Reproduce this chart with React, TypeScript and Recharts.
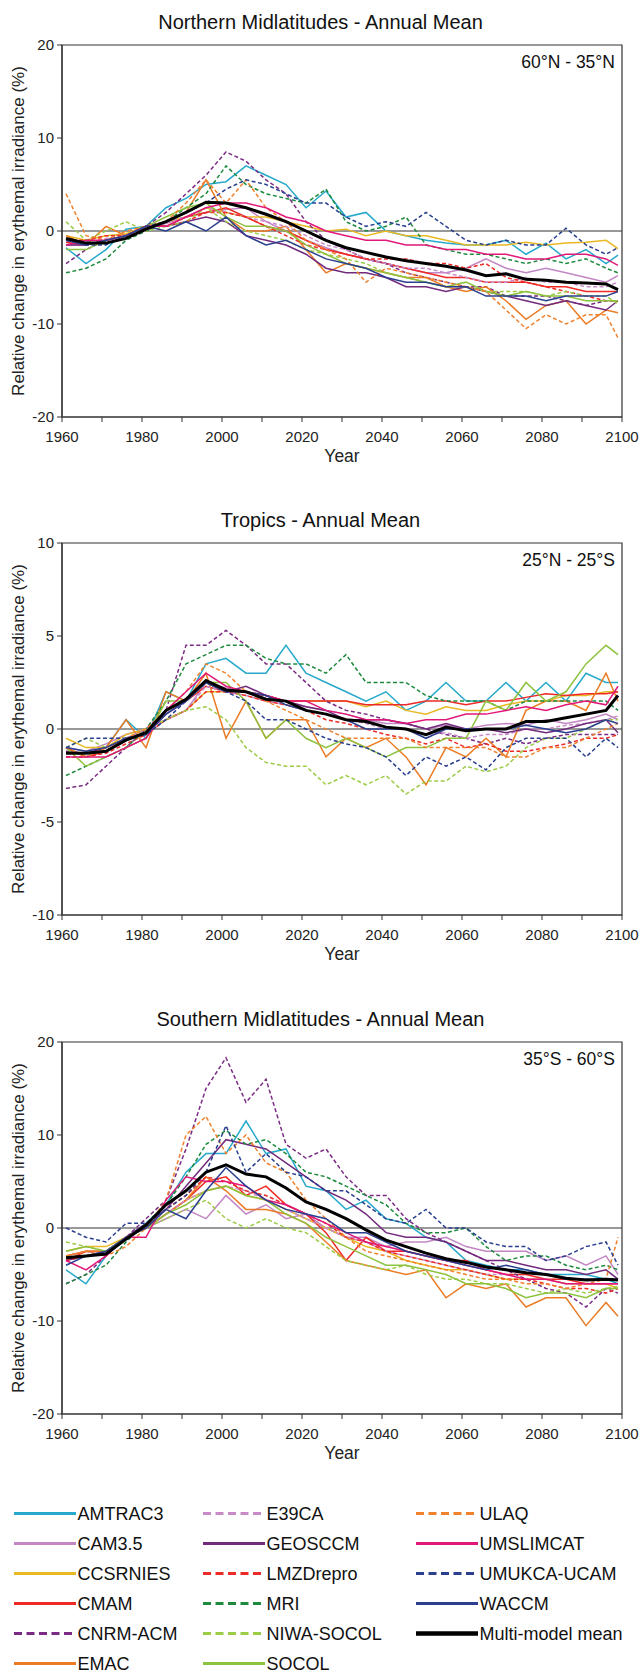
import { Line, LineChart, ReferenceArea, ReferenceLine, XAxis, YAxis } from 'recharts'

const FONT = '"Liberation Sans", Arial, Helvetica, sans-serif'

// sample years (every 5 years, plus the last model year)
const YEARS = [1961, 1966, 1971, 1976, 1981, 1986, 1991, 1996, 2001, 2006, 2011, 2016, 2021, 2026, 2031, 2036, 2041, 2046, 2051, 2056, 2061, 2066, 2071, 2076, 2081, 2086, 2091, 2096, 2099]
const X_TICKS = [1960, 1970, 1980, 1990, 2000, 2010, 2020, 2030, 2040, 2050, 2060, 2070, 2080, 2090, 2100]

// Northern midlatitudes (60N - 35N)
const NH_MEAN = [-0.8, -1.3, -1.3, -0.8, 0.2, 1.0, 2.0, 3.1, 3.0, 2.5, 1.8, 1.0, 0.0, -1.0, -1.8, -2.3, -2.8, -3.2, -3.5, -3.8, -4.2, -4.8, -4.6, -5.2, -5.3, -5.5, -5.6, -5.7, -6.3]
const NH_AMTRAC3 = [-1.8, -3.5, -2.0, 0.2, 0.5, 2.5, 3.5, 5.0, 5.3, 7.0, 6.0, 5.0, 2.5, 4.3, 1.5, 2.0, 0.0, -0.5, -1.0, -1.3, -1.5, -1.5, -1.0, -2.5, -1.3, -3.0, -2.0, -3.5, -2.6]
const NH_CAM35 = [-1.5, -1.5, -1.0, -0.8, 0.3, 0.8, 1.5, 2.0, 2.3, 2.5, 1.0, 0.0, -1.0, -1.8, -2.5, -3.0, -3.5, -4.0, -4.5, -4.5, -4.0, -3.0, -4.0, -4.5, -4.0, -4.5, -5.0, -5.5, -4.8]
const NH_CCSRNIES = [-0.5, -1.0, -0.5, -0.3, 0.5, 1.0, 1.5, 2.5, 2.0, 1.5, 1.5, 1.0, 0.5, 0.0, 0.2, -0.5, 0.0, -0.5, -0.5, -1.0, -1.5, -1.5, -1.5, -1.2, -1.5, -1.3, -1.2, -1.0, -1.9]
const NH_CMAM = [-1.2, -1.5, -1.0, -0.5, 0.5, 0.5, 1.5, 2.0, 2.5, 1.5, 0.5, 0.0, -1.0, -2.0, -2.5, -3.0, -3.5, -4.0, -4.5, -5.0, -5.0, -5.5, -5.5, -5.5, -6.0, -6.0, -6.5, -6.5, -6.5]
const NH_CNRM = [-3.5, -2.0, -1.0, -0.5, 0.5, 2.0, 4.0, 6.0, 8.5, 7.5, 5.5, 4.0, 1.0, -1.0, -2.0, -3.0, -3.5, -4.5, -5.0, -5.5, -6.0, -6.0, -7.0, -7.0, -7.0, -7.5, -8.0, -7.5, -7.5]
const NH_EMAC = [-0.5, -1.5, 0.5, -0.5, 0.5, 1.0, 2.0, 5.5, 1.5, 0.0, 0.0, 0.5, -2.0, -4.5, -3.5, -4.0, -4.5, -5.0, -5.0, -6.0, -6.5, -6.0, -7.5, -9.5, -8.0, -7.5, -10.0, -8.5, -8.8]
const NH_E39CA = [-1.0, -1.2, -0.8, -0.5, 0.0, 1.0, 1.5, 2.5, 2.0, 1.5, 1.0, 0.5, -0.5, -1.5, -2.0, -3.0, -3.5, -4.0, -4.0, -4.5, -5.0, -5.5, -5.5, -5.0, -5.5, -5.5, -6.0, -6.0, -5.5]
const NH_GEOSCCM = [-1.5, -1.5, -1.0, -0.5, 0.5, 0.5, 1.0, 1.5, 1.0, -0.5, -1.0, -1.5, -2.5, -4.0, -4.5, -4.5, -5.0, -6.0, -6.0, -6.5, -6.0, -6.5, -7.0, -7.5, -8.0, -7.5, -8.0, -8.5, -7.5]
const NH_LMZ = [-1.0, -1.0, -0.5, -0.5, 0.5, 0.5, 1.0, 2.0, 2.0, 1.5, 0.5, -0.5, -1.5, -2.0, -2.5, -3.0, -3.0, -3.0, -3.5, -3.5, -4.0, -3.5, -5.0, -5.5, -6.0, -6.5, -7.0, -7.5, -7.5]
const NH_MRI = [-4.5, -4.0, -3.0, -1.0, 0.0, 1.0, 2.5, 4.0, 7.0, 5.0, 4.0, 3.5, 3.0, 4.5, 1.0, 0.0, 0.5, 1.5, -1.5, -2.0, -2.5, -2.5, -3.0, -3.5, -3.0, -3.5, -3.0, -4.0, -4.5]
const NH_NIWA = [1.0, -1.0, 0.0, 1.0, 0.0, 0.5, 1.0, 2.5, 1.0, 0.0, -0.5, -1.0, -2.0, -2.5, -3.0, -3.5, -4.5, -5.0, -5.5, -6.0, -6.0, -6.5, -6.5, -6.5, -7.0, -6.5, -7.0, -7.0, -7.8]
const NH_SOCOL = [-2.0, -2.0, -1.0, -0.5, 0.5, 1.5, 2.5, 3.0, 1.5, 0.5, 0.5, 0.0, -1.5, -2.5, -3.5, -4.0, -4.5, -5.0, -5.5, -6.0, -5.5, -6.5, -7.0, -6.5, -7.0, -7.0, -7.5, -7.5, -7.5]
const NH_ULAQ = [4.0, -0.5, -1.0, 0.0, 0.5, 1.0, 3.0, 5.5, 3.0, 5.5, 2.5, 1.0, -1.0, -2.0, -3.0, -5.5, -4.0, -4.5, -5.0, -5.5, -6.0, -6.5, -8.5, -10.5, -9.0, -10.0, -9.0, -9.0, -11.5]
const NH_UMSLIMCAT = [-1.5, -1.0, -1.0, -0.5, 0.5, 0.5, 1.5, 2.5, 3.0, 3.0, 2.5, 1.5, 1.0, 0.0, -0.5, -1.0, -1.0, -1.5, -1.5, -2.0, -2.0, -2.5, -2.5, -3.0, -3.0, -2.5, -2.5, -3.0, -3.7]
const NH_UMUKCA = [-1.0, -1.5, -1.5, -0.5, 0.5, 1.0, 2.0, 3.0, 4.5, 5.5, 5.0, 4.0, 3.0, 3.0, 1.5, 0.5, 1.0, 0.5, 2.0, 0.5, -1.0, -1.5, -1.0, -1.5, -1.5, 0.3, -1.5, -2.5, -1.8]
const NH_WACCM = [-1.0, -1.5, -1.0, -0.5, 0.5, 0.0, 1.0, 0.0, 1.5, -0.5, -1.5, -1.0, -2.0, -3.0, -3.5, -4.0, -5.0, -5.5, -5.5, -6.0, -6.0, -7.0, -7.0, -7.0, -7.5, -7.0, -7.0, -7.0, -6.5]

// Tropics (25N - 25S)
const TR_MEAN = [-1.3, -1.3, -1.2, -0.6, -0.2, 1.0, 1.6, 2.6, 2.1, 2.0, 1.6, 1.5, 1.0, 0.8, 0.5, 0.4, 0.1, 0.0, -0.3, 0.1, -0.1, 0.0, 0.0, 0.4, 0.4, 0.6, 0.8, 1.0, 1.8]
const TR_AMTRAC3 = [-1.0, -1.5, -1.0, 0.5, -0.5, 2.0, 1.5, 3.5, 3.8, 3.0, 3.0, 4.5, 3.0, 2.5, 2.0, 1.5, 2.0, 1.0, 1.5, 2.5, 1.5, 1.5, 2.5, 1.5, 2.5, 1.5, 3.0, 2.5, 2.5]
const TR_CAM35 = [-1.0, -1.2, -0.8, -0.3, 0.0, 0.5, 1.0, 2.5, 2.2, 2.0, 1.8, 1.5, 1.2, 1.0, 0.8, 0.5, 0.3, 0.3, 0.0, 0.2, 0.0, 0.2, 0.3, 0.2, 0.5, 0.3, 0.5, 0.8, 0.5]
const TR_CCSRNIES = [-0.5, -1.0, -1.0, -0.3, 0.0, 0.5, 1.0, 2.0, 2.0, 2.0, 1.8, 1.5, 1.5, 1.5, 1.5, 1.2, 1.5, 1.0, 0.8, 1.2, 1.0, 1.0, 1.3, 1.5, 1.5, 1.8, 1.8, 2.0, 2.0]
const TR_CMAM = [-1.0, -1.5, -1.2, -0.5, -0.2, 1.0, 1.5, 2.3, 2.0, 2.0, 1.8, 1.5, 1.5, 1.5, 1.5, 1.3, 1.3, 1.3, 1.5, 1.5, 1.3, 1.5, 1.5, 1.7, 1.9, 1.8, 1.9, 1.9, 2.0]
const TR_CNRM = [-3.2, -3.0, -2.0, -1.0, 0.0, 1.0, 4.5, 4.5, 5.3, 4.5, 3.5, 3.5, 2.5, 1.5, 1.0, 0.8, 0.5, 0.3, 0.0, -0.3, -0.5, -0.8, -0.5, -0.8, -0.5, -0.3, -0.3, -0.3, -0.3]
const TR_EMAC = [-1.0, -1.5, -1.0, 0.5, -1.0, 2.0, 1.5, 3.0, -0.5, 1.5, -0.5, 0.5, 0.5, -1.5, -0.5, -1.0, -0.5, -1.5, -3.0, -1.0, -1.5, -0.5, -1.5, 1.0, 1.5, 1.5, 1.0, 3.0, 1.5]
const TR_E39CA = [-1.5, -1.5, -1.0, -0.5, 0.0, 0.5, 1.0, 2.3, 2.0, 1.8, 1.5, 1.3, 1.0, 0.8, 0.5, 0.3, 0.0, 0.0, -0.3, -0.2, -0.5, -0.3, -0.3, 0.0, 0.0, 0.2, 0.3, 0.5, 0.7]
const TR_GEOSCCM = [-1.2, -1.3, -1.0, -0.5, -0.2, 0.8, 1.5, 2.5, 2.0, 2.3, 1.8, 1.5, 1.2, 1.0, 0.5, 0.5, 0.5, 0.3, 0.0, 0.3, 0.0, 0.0, -0.2, 0.0, -0.2, 0.0, 0.3, 0.5, -0.2]
const TR_LMZ = [-1.5, -1.5, -1.3, -0.8, -0.3, 0.5, 1.0, 2.0, 2.0, 1.8, 1.5, 1.3, 1.0, 0.5, 0.3, 0.0, -0.3, -0.5, -0.8, -0.5, -1.0, -0.8, -1.2, -1.2, -1.0, -0.8, -0.5, -0.5, -0.3]
const TR_MRI = [-2.5, -2.0, -1.5, -1.0, 0.0, 1.5, 3.5, 4.0, 4.5, 4.5, 3.8, 3.5, 3.5, 3.0, 4.0, 2.5, 2.5, 2.5, 1.8, 1.5, 1.5, 1.5, 1.0, 1.5, 1.5, 1.5, 1.5, 1.5, 1.0]
const TR_NIWA = [-1.0, -0.5, -1.0, -0.5, 0.0, 0.5, 1.0, 1.2, 0.5, -1.0, -1.8, -2.0, -2.0, -3.0, -2.5, -3.0, -2.5, -3.5, -2.8, -2.8, -2.0, -2.3, -2.0, -1.0, -0.5, -0.5, 0.0, 0.5, 0.5]
const TR_SOCOL = [-1.0, -2.0, -1.5, -1.0, -0.5, 1.5, 1.5, 2.5, 2.5, 1.5, -0.5, 0.5, -0.5, -1.0, -0.5, -1.0, -1.5, -1.0, -1.0, -0.5, -0.5, 1.5, 1.0, 2.5, 1.5, 2.0, 3.5, 4.5, 4.0]
const TR_ULAQ = [-1.0, -1.5, -1.0, -0.5, 0.0, 1.0, 2.0, 3.5, 3.0, 2.0, 1.5, 1.0, 0.5, 0.0, -0.5, -0.5, -0.5, -0.5, -1.0, -1.0, -1.0, -1.0, -1.5, -1.5, -1.0, -1.0, -0.5, 0.0, 0.3]
const TR_UMSLIMCAT = [-1.5, -1.5, -1.5, -1.0, -0.5, 1.0, 2.0, 3.0, 2.3, 2.0, 1.8, 1.5, 1.5, 1.0, 0.8, 0.5, 0.5, 0.3, 0.5, 0.5, 0.8, 0.8, 1.0, 1.2, 1.0, 1.3, 1.5, 1.3, 2.3]
const TR_UMUKCA = [-1.0, -0.5, -0.5, -0.5, -0.3, 0.5, 1.5, 2.5, 2.0, 1.5, 0.5, 0.5, 0.0, -0.5, -0.8, -1.0, -1.5, -2.5, -1.5, -2.0, -1.5, -2.2, -1.0, -0.5, -0.5, -0.5, -1.5, -0.5, -1.0]
const TR_WACCM = [-1.0, -1.2, -1.0, -0.5, -0.3, 0.8, 1.5, 2.5, 2.0, 2.0, 1.8, 1.3, 1.0, 0.8, 0.5, 0.0, 0.0, 0.0, -0.5, 0.0, 0.0, 0.0, 0.0, 0.2, 0.0, -0.2, 0.0, 0.5, 0.3]

// Southern midlatitudes (35S - 60S)
const SH_MEAN = [-3.2, -3.0, -2.8, -1.2, 0.3, 2.5, 4.0, 6.0, 6.8, 5.8, 5.5, 4.3, 2.8, 2.0, 1.0, -0.2, -1.3, -2.0, -2.7, -3.3, -3.7, -4.2, -4.5, -4.8, -5.0, -5.4, -5.6, -5.5, -5.6]
const SH_AMTRAC3 = [-4.5, -6.0, -3.0, -1.0, 0.5, 2.5, 6.0, 8.0, 8.0, 11.5, 8.0, 8.5, 4.5, 4.0, 2.0, 3.0, 1.0, 0.5, -1.0, -1.5, -3.5, -4.0, -4.5, -4.5, -5.0, -5.0, -5.0, -5.5, -6.0]
const SH_CAM35 = [-3.0, -2.5, -3.0, -1.0, 0.0, 1.0, 2.0, 1.0, 3.5, 1.5, 2.5, 1.0, 1.5, 0.0, -1.0, -1.0, -2.0, -1.5, -1.5, -1.0, -2.0, -2.5, -2.5, -2.5, -3.5, -3.0, -4.0, -3.0, -5.0]
const SH_CCSRNIES = [-2.5, -2.0, -2.0, -1.0, 0.0, 1.5, 3.0, 4.0, 4.5, 3.5, 3.0, 2.0, 1.0, 0.0, -1.0, -2.0, -2.5, -3.5, -4.0, -4.5, -4.5, -5.0, -5.5, -5.5, -5.5, -6.0, -6.0, -6.0, -6.5]
const SH_CMAM = [-3.5, -2.5, -2.5, -1.0, 0.0, 1.5, 3.0, 5.0, 5.5, 3.5, 4.5, 2.5, 1.5, -0.5, -3.5, -1.0, -2.5, -2.5, -3.0, -3.5, -3.5, -4.5, -5.0, -5.0, -5.5, -5.5, -6.0, -6.0, -6.0]
const SH_CNRM = [-6.0, -5.0, -3.0, -1.0, 1.0, 3.0, 8.5, 15.0, 18.3, 13.5, 16.0, 9.0, 7.5, 8.5, 5.5, 3.5, 3.5, 1.0, -0.5, -1.5, -2.5, -3.5, -4.5, -5.5, -6.5, -7.0, -8.5, -6.5, -7.0]
const SH_EMAC = [-3.0, -2.5, -2.5, -1.0, 0.0, 1.5, 3.0, 5.5, 4.0, 2.0, 2.0, 1.5, 0.5, -1.5, -3.5, -4.0, -4.5, -5.0, -4.5, -7.5, -6.0, -6.5, -6.0, -8.5, -7.5, -7.5, -10.5, -8.0, -9.5]
const SH_E39CA = [-3.5, -3.0, -2.5, -1.0, 0.0, 1.5, 3.0, 4.0, 4.5, 4.0, 3.0, 2.0, 1.0, 0.0, -1.0, -1.5, -2.5, -3.0, -3.5, -4.0, -4.5, -5.0, -5.0, -5.5, -5.5, -6.0, -6.0, -6.0, -6.0]
const SH_GEOSCCM = [-3.5, -3.0, -2.5, -1.0, 0.5, 2.0, 4.5, 7.0, 9.5, 9.0, 8.5, 7.0, 5.5, 4.0, 3.0, 1.5, -0.5, -1.0, -1.0, -1.5, -2.5, -3.5, -3.5, -4.0, -4.5, -4.5, -5.0, -4.5, -5.5]
const SH_LMZ = [-3.5, -3.0, -2.5, -1.0, 0.0, 2.0, 3.5, 5.5, 5.0, 4.0, 3.5, 2.5, 1.5, 0.5, -1.0, -1.5, -2.5, -3.0, -3.5, -4.0, -4.5, -5.0, -5.5, -5.5, -6.0, -6.5, -6.5, -7.0, -6.5]
const SH_MRI = [-6.0, -5.0, -4.0, -1.5, 0.5, 2.5, 5.5, 9.0, 10.5, 9.0, 9.5, 8.0, 6.0, 5.5, 4.5, 3.5, 2.5, 0.5, -0.5, -0.5, 0.0, -2.0, -3.5, -3.0, -3.0, -4.0, -4.5, -4.0, -4.5]
const SH_NIWA = [-1.5, -2.0, -2.5, -1.0, 0.0, 1.0, 2.0, 3.0, 1.0, 0.0, 1.0, 0.0, -0.5, -2.0, -3.5, -4.0, -4.5, -4.0, -5.0, -5.5, -5.5, -6.0, -6.0, -6.5, -7.0, -6.5, -7.0, -6.5, -6.3]
const SH_SOCOL = [-2.5, -2.0, -2.5, -1.0, 0.0, 1.5, 2.5, 4.0, 4.5, 3.5, 3.0, 1.5, 0.5, -1.0, -2.0, -3.0, -4.0, -4.0, -4.5, -5.0, -6.0, -6.0, -6.5, -7.5, -7.0, -7.0, -7.5, -6.5, -6.5]
const SH_ULAQ = [-3.0, -2.5, -3.0, -2.0, 0.0, 3.0, 10.0, 12.0, 8.0, 10.0, 7.0, 6.0, 3.0, 1.0, -1.0, -2.5, -3.0, -3.5, -4.0, -4.5, -5.0, -5.5, -5.5, -6.0, -6.0, -6.5, -6.0, -5.5, -1.0]
const SH_UMSLIMCAT = [-3.5, -4.5, -3.0, -1.0, -1.0, 3.0, 5.5, 5.0, 5.0, 4.5, 3.0, 2.5, 1.5, 0.5, -0.5, -1.5, -2.0, -2.5, -3.0, -3.5, -4.0, -4.5, -5.0, -5.5, -5.5, -6.0, -6.0, -6.0, -6.0]
const SH_UMUKCA = [0.0, -1.0, -1.5, 0.5, 0.5, 2.0, 3.5, 6.0, 11.0, 6.0, 8.0, 6.0, 5.5, 4.0, 4.0, 2.5, 1.0, 0.5, 2.0, 0.0, 0.0, -1.5, -2.0, -2.0, -3.5, -3.0, -2.0, -1.5, -4.0]
const SH_WACCM = [-4.0, -3.0, -2.5, -1.0, 0.0, 2.0, 1.0, 4.0, 6.5, 4.5, 3.0, 2.0, 1.5, 1.0, -0.5, -0.5, -1.5, -2.5, -3.0, -3.5, -4.0, -4.5, -4.0, -4.5, -5.0, -5.5, -5.5, -5.5, -5.5]

type Model = { key: string; color: string; dashed: boolean }

const MODELS: Model[] = [
  { key: 'AMTRAC3', color: '#27a9cc', dashed: false },
  { key: 'CAM3.5', color: '#c386c4', dashed: false },
  { key: 'CCSRNIES', color: '#e8b923', dashed: false },
  { key: 'CMAM', color: '#ee2a26', dashed: false },
  { key: 'CNRM-ACM', color: '#7b2b83', dashed: true },
  { key: 'EMAC', color: '#eb7c25', dashed: false },
  { key: 'E39CA', color: '#c98bc8', dashed: true },
  { key: 'GEOSCCM', color: '#722a7c', dashed: false },
  { key: 'LMZDrepro', color: '#ee2a26', dashed: true },
  { key: 'MRI', color: '#1d8a3e', dashed: true },
  { key: 'NIWA-SOCOL', color: '#9ccb45', dashed: true },
  { key: 'SOCOL', color: '#8dc23f', dashed: false },
  { key: 'ULAQ', color: '#f0812d', dashed: true },
  { key: 'UMSLIMCAT', color: '#e1187a', dashed: false },
  { key: 'UMUKCA-UCAM', color: '#2a3f8e', dashed: true },
  { key: 'WACCM', color: '#2a3f8e', dashed: false },
]
const MEAN_KEY = 'Multi-model mean'

type PanelDef = {
  title: string
  region: string
  domain: [number, number]
  ticks: number[]
  series: Record<string, number[]>
}

const PANELS: PanelDef[] = [
  {
    title: 'Northern Midlatitudes - Annual Mean',
    region: '60°N - 35°N',
    domain: [-20, 20],
    ticks: [-20, -10, 0, 10, 20],
    series: {
      AMTRAC3: NH_AMTRAC3, 'CAM3.5': NH_CAM35, CCSRNIES: NH_CCSRNIES, CMAM: NH_CMAM, 'CNRM-ACM': NH_CNRM,
      EMAC: NH_EMAC, E39CA: NH_E39CA, GEOSCCM: NH_GEOSCCM, LMZDrepro: NH_LMZ, MRI: NH_MRI,
      'NIWA-SOCOL': NH_NIWA, SOCOL: NH_SOCOL, ULAQ: NH_ULAQ, UMSLIMCAT: NH_UMSLIMCAT,
      'UMUKCA-UCAM': NH_UMUKCA, WACCM: NH_WACCM, [MEAN_KEY]: NH_MEAN,
    },
  },
  {
    title: 'Tropics - Annual Mean',
    region: '25°N - 25°S',
    domain: [-10, 10],
    ticks: [-10, -5, 0, 5, 10],
    series: {
      AMTRAC3: TR_AMTRAC3, 'CAM3.5': TR_CAM35, CCSRNIES: TR_CCSRNIES, CMAM: TR_CMAM, 'CNRM-ACM': TR_CNRM,
      EMAC: TR_EMAC, E39CA: TR_E39CA, GEOSCCM: TR_GEOSCCM, LMZDrepro: TR_LMZ, MRI: TR_MRI,
      'NIWA-SOCOL': TR_NIWA, SOCOL: TR_SOCOL, ULAQ: TR_ULAQ, UMSLIMCAT: TR_UMSLIMCAT,
      'UMUKCA-UCAM': TR_UMUKCA, WACCM: TR_WACCM, [MEAN_KEY]: TR_MEAN,
    },
  },
  {
    title: 'Southern Midlatitudes - Annual Mean',
    region: '35°S - 60°S',
    domain: [-20, 20],
    ticks: [-20, -10, 0, 10, 20],
    series: {
      AMTRAC3: SH_AMTRAC3, 'CAM3.5': SH_CAM35, CCSRNIES: SH_CCSRNIES, CMAM: SH_CMAM, 'CNRM-ACM': SH_CNRM,
      EMAC: SH_EMAC, E39CA: SH_E39CA, GEOSCCM: SH_GEOSCCM, LMZDrepro: SH_LMZ, MRI: SH_MRI,
      'NIWA-SOCOL': SH_NIWA, SOCOL: SH_SOCOL, ULAQ: SH_ULAQ, UMSLIMCAT: SH_UMSLIMCAT,
      'UMUKCA-UCAM': SH_UMUKCA, WACCM: SH_WACCM, [MEAN_KEY]: SH_MEAN,
    },
  },
]

const PANEL_PITCH = 498.4
const CHART_H = 480
const INK = '#222'
const AXIS = '#333'

const Panel = ({ panel, top }: { panel: PanelDef; top: number }) => {
  const rows = YEARS.map((year, i) => {
    const row: Record<string, number> = { year }
    for (const key of Object.keys(panel.series)) row[key] = panel.series[key][i]
    return row
  })

  return (
    <div style={{ position: 'absolute', left: 0, top, width: 641, height: CHART_H }}>
      <svg width={641} height={CHART_H} style={{ position: 'absolute', left: 0, top: 0, fontFamily: FONT }}>
        <text x={320.5} y={28.5} textAnchor="middle" fontSize={20} fill="#111">
          {panel.title}
        </text>
        <text x={615} y={67.5} textAnchor="end" fontSize={17.5} fill="#111">
          {panel.region}
        </text>
      </svg>
      <LineChart
        width={641}
        height={CHART_H}
        data={rows}
        margin={{ top: 45, right: 19, bottom: 0, left: 0 }}
        style={{ position: 'absolute', left: 0, top: 0, fontFamily: FONT }}
      >
        <XAxis
          dataKey="year"
          type="number"
          domain={[1960, 2100]}
          ticks={X_TICKS}
          interval={0}
          height={63}
          tickSize={5}
          tickMargin={9}
          axisLine={{ stroke: AXIS, strokeWidth: 1.2 }}
          tickLine={{ stroke: AXIS }}
          tick={{ fontSize: 15, fill: INK }}
          tickFormatter={(v: number) => (v % 20 === 0 ? String(v) : '')}
          label={{ value: 'Year', position: 'insideBottom', offset: 18, fontSize: 17.5, fill: INK }}
        />
        <YAxis
          type="number"
          domain={panel.domain}
          ticks={panel.ticks}
          interval={0}
          width={62}
          tickSize={5}
          tickMargin={3}
          axisLine={{ stroke: AXIS, strokeWidth: 1.2 }}
          tickLine={{ stroke: AXIS }}
          tick={{ fontSize: 15, fill: INK }}
          label={{
            value: 'Relative change in erythemal irradiance (%)',
            angle: -90,
            position: 'insideLeft',
            offset: 18,
            fontSize: 17,
            fill: INK,
            style: { textAnchor: 'middle' },
          }}
        />
        <ReferenceArea
          x1={1960}
          x2={2100}
          y1={panel.domain[0]}
          y2={panel.domain[1]}
          fill="none"
          stroke={AXIS}
          strokeWidth={1.2}
        />
        <ReferenceLine y={0} stroke={AXIS} strokeWidth={1.2} />
        {MODELS.map((m) => (
          <Line
            key={m.key}
            dataKey={m.key}
            type="linear"
            stroke={m.color}
            strokeWidth={1.5}
            strokeDasharray={m.dashed ? '4 2.5' : undefined}
            dot={false}
            isAnimationActive={false}
          />
        ))}
        <Line
          dataKey={MEAN_KEY}
          type="linear"
          stroke="#000"
          strokeWidth={3}
          dot={false}
          isAnimationActive={false}
        />
      </LineChart>
    </div>
  )
}

const LEGEND_COLS = [14, 203, 416]
const LEGEND_TOP = 1513.5
const LEGEND_ROW = 30

const FigureLegend = () => {
  const entries = [...MODELS, { key: MEAN_KEY, color: '#000', dashed: false }]
  return (
    <svg width={641} height={1673} style={{ position: 'absolute', left: 0, top: 0, fontFamily: FONT }}>
      {entries.map((m, i) => {
        const x = LEGEND_COLS[Math.floor(i / 6)]
        const y = LEGEND_TOP + (i % 6) * LEGEND_ROW
        const isMean = m.key === MEAN_KEY
        return (
          <g key={m.key}>
            <line
              x1={x}
              x2={x + 62}
              y1={y}
              y2={y}
              stroke={m.color}
              strokeWidth={isMean ? 4.5 : 3}
              strokeDasharray={m.dashed ? '8 4.5' : undefined}
            />
            <text x={x + 63.5} y={y + 6.3} fontSize={18} fill="#111">
              {m.key}
            </text>
          </g>
        )
      })}
    </svg>
  )
}

export default function App() {
  return (
    <div style={{ position: 'absolute', left: 0, top: 0, width: 641, height: 1673, background: '#fff', overflow: 'hidden' }}>
      <FigureLegend />
      {PANELS.map((p, i) => (
        <Panel key={p.title} panel={p} top={i * PANEL_PITCH} />
      ))}
    </div>
  )
}
